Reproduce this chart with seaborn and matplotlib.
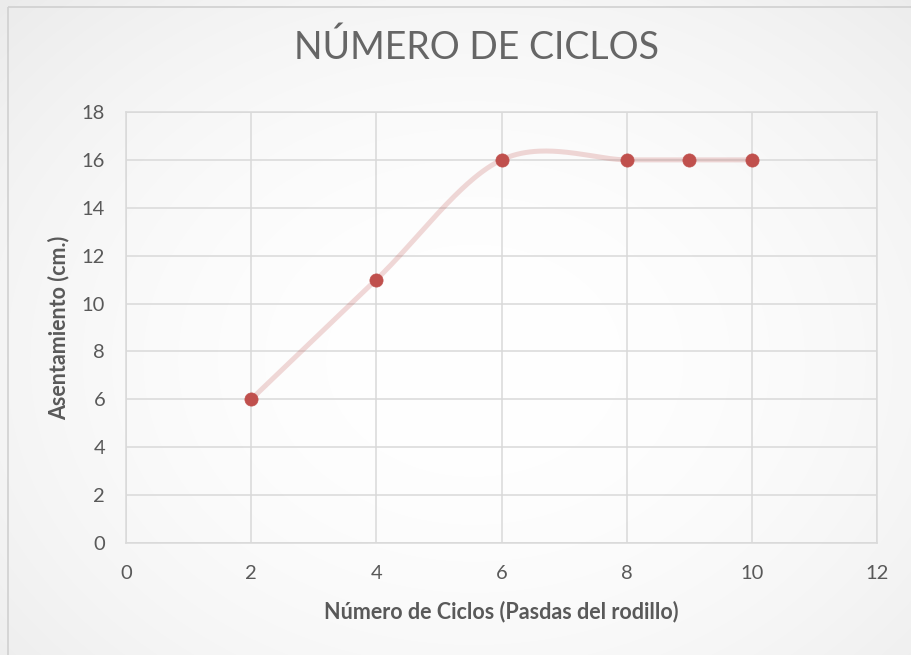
import numpy as np
import pandas as pd
import matplotlib
matplotlib.use("Agg")
import matplotlib.pyplot as plt
from matplotlib.patches import Rectangle
import seaborn as sns

# Data
ciclos = [2, 4, 6, 8, 9, 10]
asentamiento = [6, 11, 16, 16, 16, 16]
x_ticks = [0, 2, 4, 6, 8, 10, 12]
y_ticks = [0, 2, 4, 6, 8, 10, 12, 14, 16, 18]

title = "NÚMERO DE CICLOS"
x_label = "Número de Ciclos (Pasdas del rodillo)"
y_label = "Asentamiento (cm.)"

GRAY_TEXT = "#595959"
GRID = "#d9d9d9"
RED = "#c0504d"

sns.set_theme(style="white")
plt.rcParams["font.family"] = ["Lato", "DejaVu Sans"]

W, H = 911, 655
fig = plt.figure(figsize=(W / 100, H / 100), dpi=100)

# soft radial background for the whole chart
bg = fig.add_axes([0, 0, 1, 1], zorder=-10)
yy, xx = np.mgrid[0:H, 0:W]
r = np.sqrt(((xx - W * 0.52) / (W * 0.55)) ** 2 + ((yy - H * 0.55) / (H * 0.6)) ** 2)
shade = 1.0 - 0.045 * np.clip(r, 0, 1.3) ** 2
bg.imshow(np.dstack([shade] * 3), extent=[0, W, H, 0], aspect="auto")
bg.set_xlim(0, W)
bg.set_ylim(H, 0)
bg.axis("off")
bg.add_patch(Rectangle((7.5, 6.5), W + 10, H + 10, fill=False, edgecolor="#d0d0d0", lw=1.2))

# plot area
L, R, T, B = 126, 877, 112, 543
ax = fig.add_axes([L / W, (H - B) / H, (R - L) / W, (B - T) / H])
ax.patch.set_alpha(0)

# smoothed connecting curve (cubic Bezier segments, Catmull-Rom style tangents)
pts = np.column_stack([ciclos, asentamiento]).astype(float)
curve = []
n = len(pts)
t = np.linspace(0, 1, 60)[:, None]
for i in range(n - 1):
    p0 = pts[i]
    p3 = pts[i + 1]
    prev = pts[i - 1] if i > 0 else pts[i]
    nxt = pts[i + 2] if i + 2 < n else pts[i + 1]
    p1 = p0 + (p3 - prev) / 6.0
    p2 = p3 - (nxt - p0) / 6.0
    seg = (1 - t) ** 3 * p0 + 3 * (1 - t) ** 2 * t * p1 + 3 * (1 - t) * t ** 2 * p2 + t ** 3 * p3
    curve.append(seg if i == 0 else seg[1:])
curve = np.vstack(curve)
curve_df = pd.DataFrame({"x": curve[:, 0], "y": curve[:, 1], "i": np.arange(len(curve))})

sns.lineplot(data=curve_df, x="x", y="y", sort=False, estimator=None, ax=ax,
             color=RED, alpha=0.22, lw=3.6, solid_capstyle="round", zorder=2)

df = pd.DataFrame({"ciclos": ciclos, "asentamiento": asentamiento})
sns.scatterplot(data=df, x="ciclos", y="asentamiento", ax=ax, color=RED,
                s=90, edgecolor=RED, linewidth=0.5, zorder=3)

ax.set_xlim(0, 12)
ax.set_ylim(0, 18)
ax.set_xticks(x_ticks)
ax.set_yticks(y_ticks)
ax.grid(True, color=GRID, lw=1.1)
ax.set_axisbelow(True)
for s in ax.spines.values():
    s.set_color(GRID)
    s.set_linewidth(1.1)
ax.tick_params(axis="both", length=0, labelcolor=GRAY_TEXT, labelsize=14.5)
ax.tick_params(axis="y", pad=15)
ax.tick_params(axis="x", pad=16)

ax.set_xlabel(x_label, fontsize=15.5, fontweight="bold", color=GRAY_TEXT, labelpad=13)
ax.set_ylabel(y_label, fontsize=15.5, fontweight="bold", color=GRAY_TEXT, labelpad=9)

fig.text(476 / W, (H - 48) / H, title, ha="center", va="center",
         fontsize=27, fontweight="normal", color="#666666")

fig.savefig("out.png", dpi=100)
